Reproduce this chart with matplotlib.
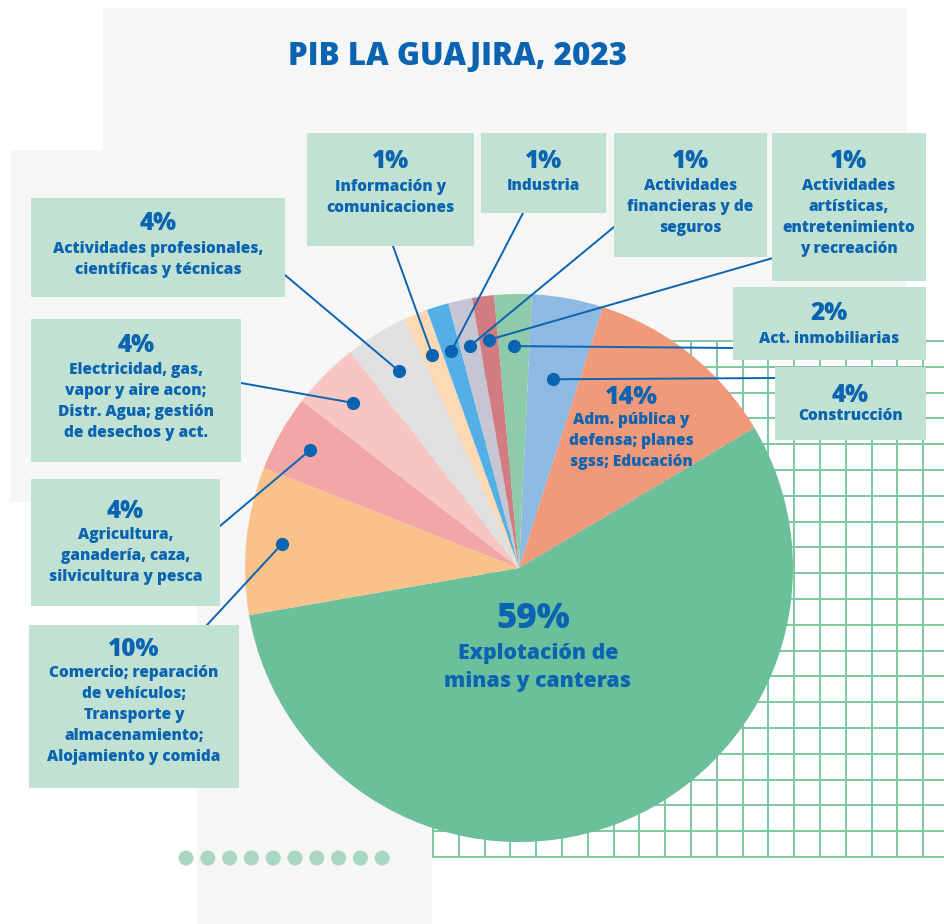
import numpy as np
import matplotlib.pyplot as plt
from matplotlib.patches import Rectangle, Circle

W, H = 944, 924
AZUL = '#0B64B1'
CAJA = '#C1E1D3'
PESO = 800
plt.rcParams['font.family'] = ['Open Sans', 'DejaVu Sans']

# datos
titulo = "PIB LA GUAJIRA, 2023"
sectores = ["Construcción",
            "Adm. pública y\ndefensa; planes\nsgss; Educación",
            "Explotación de\nminas y canteras",
            "Comercio; reparación\nde vehículos;\nTransporte y\nalmacenamiento;\nAlojamiento y comida",
            "Agricultura,\nganadería, caza,\nsilvicultura y pesca",
            "Electricidad, gas,\nvapor y aire acon;\nDistr. Agua; gestión\nde desechos y act.",
            "Actividades profesionales,\ncientíficas y técnicas",
            "Información y\ncomunicaciones",
            "Industria",
            "Actividades\nfinancieras y de\nseguros",
            "Actividades\nartísticas,\nentretenimiento\ny recreación",
            "Act. inmobiliarias"]
etiquetas_pct = ["4%", "14%", "59%", "10%", "4%", "4%", "4%", "1%", "1%", "1%", "1%", "2%"]
# tamaño de cada porción tal como aparece dibujada (%)
participacion = [4.2, 11.5, 55.8, 8.7, 4.5, 4.0, 3.7, 1.4, 1.3, 1.4, 1.3, 2.2]
colores = ['#8DB9E3', '#F0997B', '#6BBF9A', '#F8C28A', '#F2A6A8', '#F7C6C2',
           '#E0E0E0', '#FDDAB5', '#52B0E6', '#C5C5D3', '#D17C80', '#8ECBAA']

# layout en pixeles (y hacia abajo): caja, punto de llegada de la linea,
# fraccion del radio para el punto, y del % y de la primera linea
cajas = {
    0: ((775, 367, 926, 440), (776, 378), 0.70, 392, 414),
    11: ((733, 287, 926, 360), (733, 348), 0.81, 310, 337),
    10: ((772, 133, 926, 281), (773, 258), 0.84, 158, 184),
    9: ((614, 133, 767, 257), (614, 227), 0.83, 158, 184),
    8: ((481, 133, 606, 213), (523, 213), 0.83, 158, 184),
    7: ((307, 133, 474, 246), (393, 246), 0.84, 158, 185),
    6: ((31, 198, 285, 297), (285, 275), 0.84, 220, 247),
    5: ((31, 319, 241, 462), (241, 383), 0.855, 343, 368),
    4: ((31, 479, 220, 606), (220, 526), 0.875, 508, 533),
    3: ((29, 625, 239, 788), (207, 625), 0.87, 646, 671),
}
CX, CY, R = 519, 568, 274


def yy(y):
    return H - y


fig = plt.figure(figsize=(W / 100, H / 100), dpi=100)
ax = fig.add_axes([0, 0, 1, 1])

# fondo tipo papel
for x0, y0, x1, y1 in [(103, 8, 907, 340), (10, 150, 430, 502), (197, 502, 432, 924)]:
    ax.add_patch(Rectangle((x0, yy(y1)), x1 - x0, y1 - y0, color='#F6F6F6', lw=0, zorder=0))

# cuadricula
paso = 25.8
for gx in np.arange(433, W + 1, paso):
    ax.plot([gx, gx], [yy(341), yy(857)], color='#7DC6A2', lw=1.4, zorder=1)
for gy in np.arange(341, 858, paso):
    ax.plot([433, W], [yy(gy), yy(gy)], color='#7DC6A2', lw=1.4, zorder=1)

wedges, _ = ax.pie(participacion, colors=colores, startangle=87.3, counterclock=False,
                   center=(CX, yy(CY)), radius=R, wedgeprops=dict(linewidth=0, zorder=2))

for i, (caja, fin, frac, ypct, ylab) in cajas.items():
    w = wedges[i]
    ang = np.deg2rad((w.theta1 + w.theta2) / 2)
    px = CX + frac * R * np.cos(ang)
    py = yy(CY) + frac * R * np.sin(ang)
    ax.plot([px, fin[0]], [py, yy(fin[1])], color=AZUL, lw=1.4, zorder=3)
    ax.plot(px, py, 'o', color=AZUL, ms=8.5, zorder=4)
    x0, y0, x1, y1 = caja
    ax.add_patch(Rectangle((x0, yy(y1)), x1 - x0, y1 - y0, color=CAJA, lw=0, zorder=5))
    xc = (x0 + x1) / 2
    ax.text(xc, yy(ypct), etiquetas_pct[i], ha='center', va='center_baseline',
            fontsize=17.5, fontweight=PESO, color=AZUL, zorder=6)
    for k, linea in enumerate(sectores[i].split('\n')):
        ax.text(xc, yy(ylab + k * 21), linea, ha='center', va='center_baseline',
                fontsize=11.2, fontweight=PESO, color=AZUL, zorder=6)

# textos dentro del pie
ax.text(631, yy(395), etiquetas_pct[1], ha='center', va='center_baseline',
        fontsize=18, fontweight=PESO, color=AZUL, zorder=6)
for k, linea in enumerate(sectores[1].split('\n')):
    ax.text(631, yy(418 + k * 21), linea, ha='center', va='center_baseline',
            fontsize=11.2, fontweight=PESO, color=AZUL, zorder=6)
ax.text(533, yy(615), etiquetas_pct[2], ha='center', va='center_baseline',
        fontsize=25, fontweight=PESO, color=AZUL, zorder=6)
for k, linea in enumerate(sectores[2].split('\n')):
    ax.text(538, yy(651 + k * 28), linea, ha='center', va='center_baseline',
            fontsize=15.3, fontweight=PESO, color=AZUL, zorder=6)

ax.text(457, yy(53), titulo, ha='center', va='center_baseline',
        fontsize=22.5, fontweight=PESO, color=AZUL, zorder=6)

# puntos decorativos
for k in range(10):
    ax.add_patch(Circle((186 + k * 21.8, yy(858)), 7.5, color='#A9D7C2', lw=0, zorder=6))

ax.set_xlim(0, W)
ax.set_ylim(0, H)
ax.set_aspect('equal')
ax.set_axis_off()
fig.savefig('out.png', dpi=100, facecolor='white')
